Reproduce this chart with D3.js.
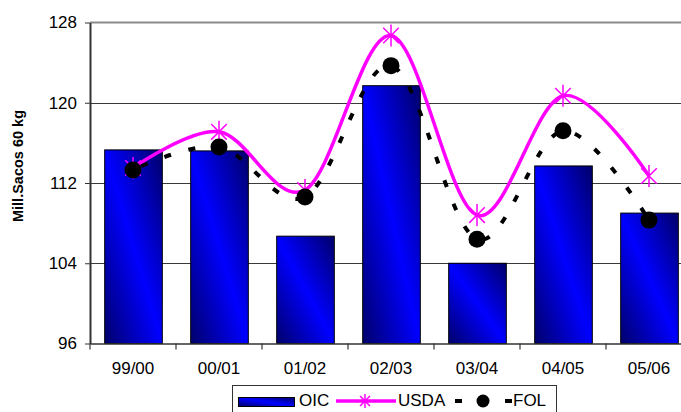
<!DOCTYPE html>
<html>
<head>
<meta charset="utf-8">
<script src="https://cdn.jsdelivr.net/npm/d3@7"></script>
<style>
  html, body { margin: 0; padding: 0; background: #fff; }
  svg { display: block; font-family: "Liberation Sans", Arial, sans-serif; }
</style>
</head>
<body>
<svg id="chart" width="681" height="412"></svg>
<script>
// Coffee production, million 60 kg bags, by crop year
const seasons = ["99/00", "00/01", "01/02", "02/03", "03/04", "04/05", "05/06"];
const oic  = [115.3, 115.2, 106.7, 121.7, 104.0, 113.7, 109.0];
const usda = [113.5, 117.1, 111.3, 126.7, 108.8, 120.7, 112.7];
const fol  = [113.3, 115.6, 110.6, 123.7, 106.4, 117.2, 108.3];
const yTicks = [96, 104, 112, 120, 128];

const svg = d3.select("#chart");
const plotL = 90, plotR = 692, plotT = 22.5, plotB = 343.5;

const x = d3.scaleBand().domain(seasons).range([plotL, plotR])
  .paddingInner(0.33).paddingOuter(0.165);
const y = d3.scaleLinear().domain([96, 128]).range([plotB, plotT]);

// diagonal bar shading: dark corners, bright along the main diagonal
const defs = svg.append("defs");
const grad = defs.append("linearGradient").attr("id", "barFill")
  .attr("x1", 0).attr("y1", 1).attr("x2", 1).attr("y2", 0);
grad.append("stop").attr("offset", 0).attr("stop-color", "#00006a");
grad.append("stop").attr("offset", 0.5).attr("stop-color", "#0000ff");
grad.append("stop").attr("offset", 1).attr("stop-color", "#00006a");

// horizontal gridlines
svg.append("g")
  .selectAll("line").data(yTicks.filter(d => d > 96 && d < 128)).join("line")
  .attr("x1", plotL).attr("x2", plotR)
  .attr("y1", d => Math.round(y(d)) + 0.5).attr("y2", d => Math.round(y(d)) + 0.5)
  .attr("stroke", "#3a3a3a").attr("stroke-width", 1);
// top border of the plot area
svg.append("line")
  .attr("x1", plotL).attr("x2", plotR).attr("y1", y(128)).attr("y2", y(128))
  .attr("stroke", "#8a8a8a").attr("stroke-width", 2);

// OIC bars
svg.append("g").selectAll("rect").data(seasons).join("rect")
  .attr("x", d => x(d) + 0.5)
  .attr("y", (d, i) => y(oic[i]))
  .attr("width", x.bandwidth())
  .attr("height", (d, i) => y(96) - y(oic[i]))
  .attr("fill", "url(#barFill)")
  .attr("stroke", "#000").attr("stroke-width", 1);

// axes
const yAxis = d3.axisLeft(y).tickValues(yTicks).tickSize(5).tickSizeOuter(0).tickPadding(8);
const gy = svg.append("g").attr("transform", `translate(${plotL},0)`).call(yAxis);
gy.select(".domain").attr("stroke", "#333").attr("stroke-width", 2);
gy.selectAll(".tick line").attr("stroke", "#333");
gy.selectAll("text").attr("font-size", 17).attr("fill", "#000")
  .attr("font-family", "Liberation Sans, Arial, sans-serif");

const xAxis = d3.axisBottom(x).tickSize(0).tickSizeOuter(0).tickPadding(18);
const gx = svg.append("g").attr("transform", `translate(0,${plotB})`).call(xAxis);
gx.select(".domain").attr("stroke", "#333").attr("stroke-width", 1.5);
gx.selectAll("text").attr("font-size", 17).attr("fill", "#000")
  .attr("font-family", "Liberation Sans, Arial, sans-serif");
// category separators below the axis
const sepPos = d3.range(seasons.length + 1).map(i => plotL + i * x.step());
svg.append("g").selectAll("line").data(sepPos).join("line")
  .attr("x1", d => d).attr("x2", d => d)
  .attr("y1", plotB).attr("y2", plotB + 6)
  .attr("stroke", "#333").attr("stroke-width", 1.2);

// y-axis title
svg.append("text")
  .attr("transform", "translate(23,166) rotate(-90)")
  .attr("text-anchor", "middle")
  .attr("font-size", 14.5).attr("font-weight", "bold")
  .text("Mill.Sacos 60 kg");

const cx = d => x(d) + x.bandwidth() / 2;
const curve = d3.curveCatmullRom.alpha(0);

function asterisk(g, r) {
  const a = r * Math.SQRT1_2;
  g.append("line").attr("x1", 0).attr("y1", -r).attr("x2", 0).attr("y2", r);
  g.append("line").attr("x1", -a).attr("y1", -a).attr("x2", a).attr("y2", a);
  g.append("line").attr("x1", -a).attr("y1", a).attr("x2", a).attr("y2", -a);
}

// USDA smoothed line + asterisk markers
const usdaLine = d3.line().x((d, i) => cx(seasons[i])).y(d => y(d)).curve(curve);
svg.append("path").datum(usda).attr("d", usdaLine)
  .attr("fill", "none").attr("stroke", "#ff00ff").attr("stroke-width", 3.5);
svg.append("g").selectAll("g").data(usda).join("g")
  .attr("transform", (d, i) => `translate(${cx(seasons[i])},${y(d)})`)
  .attr("stroke", "#ff00ff").attr("stroke-width", 1.5)
  .each(function () { asterisk(d3.select(this), 11); });

// FOL dashed smoothed line + circle markers
const folLine = d3.line().x((d, i) => cx(seasons[i])).y(d => y(d)).curve(curve);
svg.append("path").datum(fol).attr("d", folLine)
  .attr("fill", "none").attr("stroke", "#000").attr("stroke-width", 4)
  .attr("stroke-dasharray", "7 18").attr("stroke-dashoffset", -9);
svg.append("g").selectAll("circle").data(fol).join("circle")
  .attr("cx", (d, i) => cx(seasons[i])).attr("cy", d => y(d))
  .attr("r", 8.5).attr("fill", "#000");

// legend
const lg = svg.append("g");
lg.append("rect").attr("x", 232.5).attr("y", 385.5).attr("width", 324).attr("height", 40)
  .attr("fill", "#fff").attr("stroke", "#333").attr("stroke-width", 1);
lg.append("rect").attr("x", 238.5).attr("y", 397.5).attr("width", 56).attr("height", 9)
  .attr("fill", "url(#barFill)").attr("stroke", "#000").attr("stroke-width", 1);
lg.append("text").attr("x", 299).attr("y", 406).attr("font-size", 17).text("OIC");
lg.append("line").attr("x1", 336).attr("x2", 396).attr("y1", 401).attr("y2", 401)
  .attr("stroke", "#ff00ff").attr("stroke-width", 3.5);
const la = lg.append("g").attr("transform", "translate(365,401)")
  .attr("stroke", "#ff00ff").attr("stroke-width", 1.5);
asterisk(la, 7);
lg.append("text").attr("x", 398).attr("y", 406).attr("font-size", 17).text("USDA");
lg.append("line").attr("x1", 455).attr("x2", 512).attr("y1", 401).attr("y2", 401)
  .attr("stroke", "#000").attr("stroke-width", 4).attr("stroke-dasharray", "7 18");
lg.append("circle").attr("cx", 483).attr("cy", 401).attr("r", 6.5).attr("fill", "#000");
lg.append("text").attr("x", 513).attr("y", 406).attr("font-size", 17).text("FOL");
</script>
</body>
</html>
